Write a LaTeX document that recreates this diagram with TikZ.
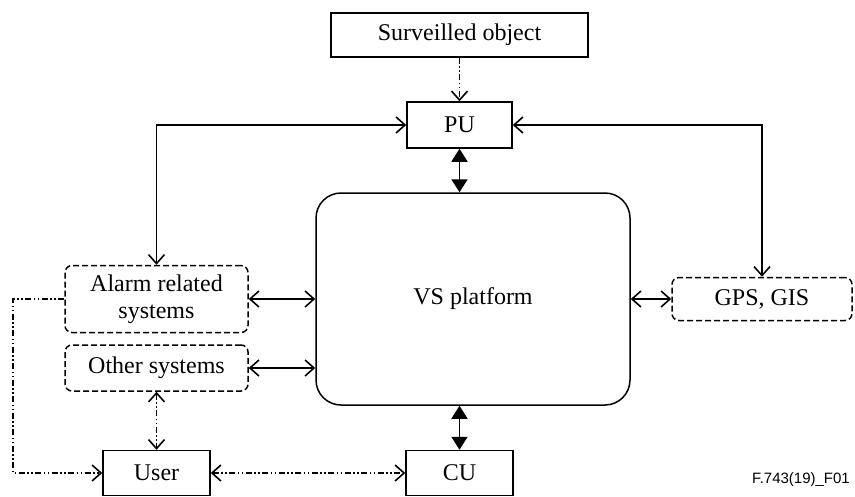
\documentclass[tikz,border=0pt]{standalone}
\usepackage{fontspec}
\setmainfont{Liberation Serif}
\newfontfamily\footfont{Liberation Sans}
\usetikzlibrary{arrows.meta}
\begin{document}
\begin{tikzpicture}[x=1pt,y=-1pt,
  box/.style={draw,line width=1.5pt,rectangle,inner sep=0pt,align=center,font=\fontsize{24}{27}\selectfont},
  dbox/.style={box,dashed,dash pattern=on 6pt off 3pt,rounded corners=7pt},
  barb/.style={Straight Barb[length=9pt,width=16pt,line width=1.6pt]},
  conn/.style={line width=1.5pt,{Straight Barb[length=9pt,width=16pt,line width=1.6pt]}-{Straight Barb[length=9pt,width=16pt,line width=1.6pt]}},
  oneway/.style={line width=1.5pt,-{Straight Barb[length=9pt,width=16pt,line width=1.6pt]}},
  thickconn/.style={line width=1.8pt,{Triangle[length=13pt,width=16pt]}-{Triangle[length=13pt,width=16pt]}},
  dd/.style={dash pattern=on 6pt off 2.5pt on 1.5pt off 2.5pt on 1.5pt off 2.5pt}
]
\useasboundingbox (0,0) rectangle (855,496);
\node[box,minimum width=257pt,minimum height=44pt] (so) at (459.5,35) {Surveilled object};
\node[box,minimum width=105pt,minimum height=46pt] (pu) at (459.5,125) {PU};
\node[box,rounded corners=25pt,minimum width=314pt,minimum height=212pt] (vs) at (473,299) {VS platform};
\node[dbox,minimum width=183pt,minimum height=67pt] (alarm) at (156.5,299) {Alarm related\\systems};
\node[dbox,minimum width=183pt,minimum height=46pt] (other) at (156.5,368) {Other systems};
\node[dbox,minimum width=180pt,minimum height=43pt] (gps) at (762,299) {GPS, GIS};
\node[box,minimum width=107pt,minimum height=45pt] (user) at (156.5,473) {User};
\node[box,minimum width=107pt,minimum height=45pt] (cu) at (459.5,473) {CU};
\node[font=\footfont\fontsize{15}{17}\selectfont,anchor=base east,inner sep=0pt] (fig) at (850,483) {F.743(19)\_F01};
\coordinate (lc) at (13,299);

\draw[oneway,dd] (so.south) -- (pu.north);
\draw[conn] (pu.west) -| (alarm.north);
\draw[conn] (pu.east) -| (gps.north);
\draw[thickconn] (pu.south) -- (pu.south |- vs.north);
\draw[thickconn] (cu.north |- vs.south) -- (cu.north);
\draw[conn] (alarm.east) -- (alarm.east -| vs.west);
\draw[conn] (other.east) -- (other.east -| vs.west);
\draw[conn] (gps.west -| vs.east) -- (gps.west);
\draw[conn,dd] (other.south) -- (user.north);
\draw[oneway,dd] (alarm.west) -- (lc) |- (user.west);
\draw[conn,dd] (user.east) -- (cu.west);
\end{tikzpicture}
\end{document}
